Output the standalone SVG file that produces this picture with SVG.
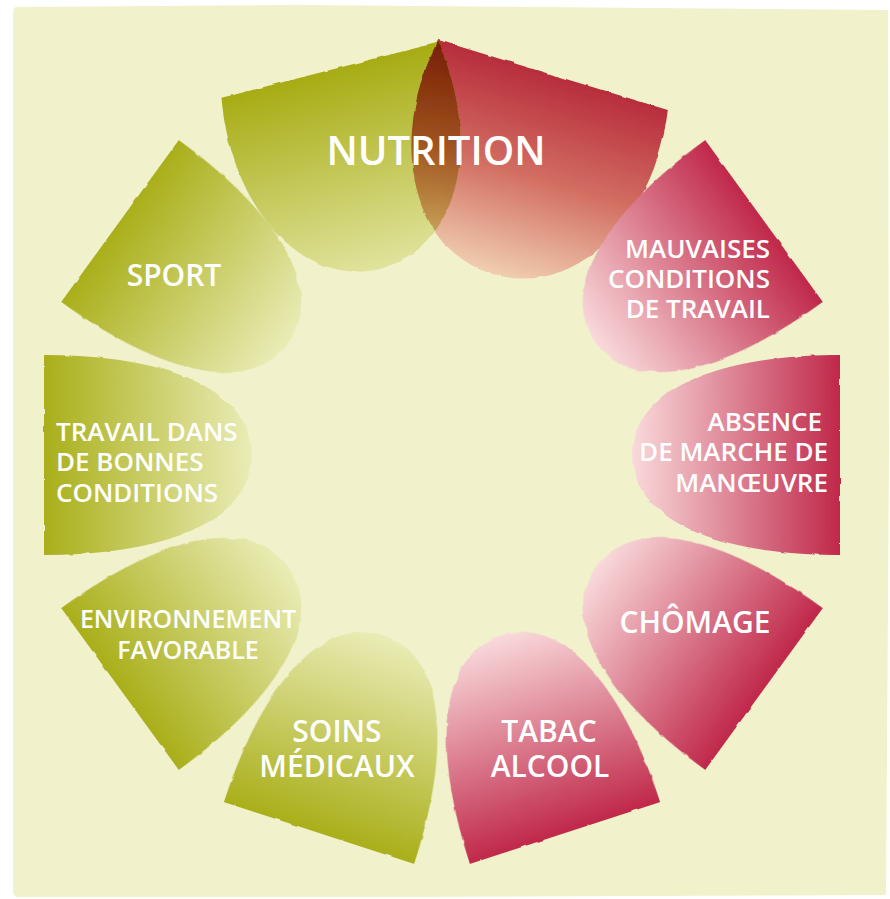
<svg xmlns="http://www.w3.org/2000/svg" xmlns:xlink="http://www.w3.org/1999/xlink" width="890" height="899" viewBox="0 0 890 899">
  <defs>
    <style>
      .lbl { fill: #ffffff; font-family: "Open Sans", "Noto Sans", "Liberation Sans", sans-serif; font-weight: 600; }
      .mid { text-anchor: middle; }
      .end { text-anchor: end; }
      .s25 { font-size: 25px; }
      .s26 { font-size: 26px; }
      .s30 { font-size: 30px; }
    </style>

    <!-- petal gradients: dark at the outer rim, pale toward the ring centre -->
    <linearGradient id="gGreen" x1="0" y1="0" x2="0" y2="1">
      <stop offset="0" stop-color="#A9AF1A"/>
      <stop offset="1" stop-color="#EAECB6"/>
    </linearGradient>
    <linearGradient id="gRed" x1="0" y1="0" x2="0" y2="1">
      <stop offset="0" stop-color="#C0284A"/>
      <stop offset="1" stop-color="#F9DADB"/>
    </linearGradient>
    <linearGradient id="gNutGreen" x1="0" y1="0" x2="0" y2="1">
      <stop offset="0" stop-color="#A7AC14"/>
      <stop offset="1" stop-color="#E0E39C"/>
    </linearGradient>
    <linearGradient id="gNutRed" x1="0" y1="0" x2="0" y2="1">
      <stop offset="0" stop-color="#B82D3D"/>
      <stop offset="0.5" stop-color="#D26E62"/>
      <stop offset="1" stop-color="#F0CEB0"/>
    </linearGradient>

    <!-- slightly torn edges -->
    <filter id="rough" x="-5%" y="-5%" width="110%" height="110%">
      <feTurbulence type="fractalNoise" baseFrequency="0.06" numOctaves="3" seed="4" result="noise"/>
      <feDisplacementMap in="SourceGraphic" in2="noise" scale="3" xChannelSelector="R" yChannelSelector="G"/>
    </filter>

    <!-- standard petal: outer rim on y=0, rounded tip pointing to +y -->
    <path id="petal" d="M-100,0 L100,0 C100,129 62,208 0,208 C-62,208 -100,129 -100,0 Z"/>

    <!-- the two larger petals of the top node -->
    <path id="nutGreen" transform="translate(330,70) rotate(-14.3)" d="M-112,0 L112,0 C130,110 80,205 0,205 C-80,205 -130,110 -112,0 Z"/>
    <path id="nutRed" transform="translate(553,75) rotate(16.9)" d="M-120,0 L120,0 C140,110 85,208 0,208 C-85,208 -140,110 -120,0 Z"/>
    <clipPath id="clipNutGreen">
      <use xlink:href="#nutGreen"/>
    </clipPath>
  </defs>

  <!-- paper panel -->
  <path d="M16,7 L300,5 L888,10 L889,450 L886,895 L400,897 L18,897 Q13,897 13,890 L13,14 Q13,7 16,7 Z" fill="#F1F1CC"/>

  <g id="connectors"/>

  <g id="ring">
    <g id="node-nutrition">
      <g filter="url(#rough)">
        <use xlink:href="#nutRed" fill="url(#gNutRed)"/>
        <use xlink:href="#nutGreen" fill="url(#gNutGreen)"/>
        <use xlink:href="#nutRed" fill="url(#gNutRed)" clip-path="url(#clipNutGreen)" style="mix-blend-mode:multiply"/>
      </g>
      <text class="lbl mid" x="436" y="165" font-size="40">NUTRITION</text>
    </g>

    <g id="node-mauvaises-conditions">
      <use xlink:href="#petal" transform="translate(764,221) rotate(54)" fill="url(#gRed)" filter="url(#rough)"/>
      <text class="lbl end s26" x="770" y="258">MAUVAISES<tspan x="770" dy="30">CONDITIONS</tspan><tspan x="770" dy="30">DE TRAVAIL</tspan></text>
    </g>

    <g id="node-absence-marche">
      <use xlink:href="#petal" transform="translate(840,455) rotate(90)" fill="url(#gRed)" filter="url(#rough)"/>
      <text class="lbl end s26" x="822" y="431">ABSENCE<tspan x="828" dy="30">DE MARCHE DE</tspan><tspan x="828" dy="31">MANŒUVRE</tspan></text>
    </g>

    <g id="node-chomage">
      <use xlink:href="#petal" transform="translate(764,689) rotate(126)" fill="url(#gRed)" filter="url(#rough)"/>
      <text class="lbl mid s30" x="695" y="633">CHÔMAGE</text>
    </g>

    <g id="node-tabac-alcool">
      <use xlink:href="#petal" transform="translate(565,833) rotate(162)" fill="url(#gRed)" filter="url(#rough)"/>
      <text class="lbl mid s30" x="549" y="742">TABAC<tspan x="550" dy="35">ALCOOL</tspan></text>
    </g>

    <g id="node-soins">
      <use xlink:href="#petal" transform="translate(319,833) rotate(198)" fill="url(#gGreen)" filter="url(#rough)"/>
      <text class="lbl mid s30" x="337" y="742">SOINS<tspan x="337" dy="35">MÉDICAUX</tspan></text>
    </g>

    <g id="node-environnement">
      <use xlink:href="#petal" transform="translate(120,689) rotate(234)" fill="url(#gGreen)" filter="url(#rough)"/>
      <text class="lbl mid s25" x="188" y="628">ENVIRONNEMENT<tspan x="188" dy="31">FAVORABLE</tspan></text>
    </g>

    <g id="node-travail">
      <use xlink:href="#petal" transform="translate(44,455) rotate(270)" fill="url(#gGreen)" filter="url(#rough)"/>
      <text class="lbl s26" x="56" y="441">TRAVAIL DANS<tspan x="56" dy="30">DE BONNES</tspan><tspan x="56" dy="31">CONDITIONS</tspan></text>
    </g>

    <g id="node-sport">
      <use xlink:href="#petal" transform="translate(120,221) rotate(306)" fill="url(#gGreen)" filter="url(#rough)"/>
      <text class="lbl mid s30" x="174" y="286">SPORT</text>
    </g>
  </g>
</svg>
